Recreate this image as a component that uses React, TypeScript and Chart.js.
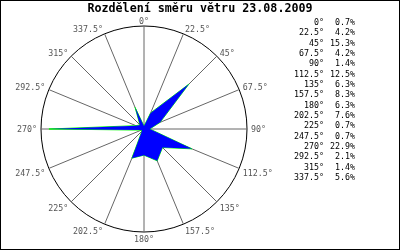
import React, { useEffect, useRef } from "react";
import { Chart, registerables } from "chart.js";

Chart.register(...registerables);

const TITLE = "Rozdělení směru větru 23.08.2009";
const DIRECTIONS = ["0°", "22.5°", "45°", "67.5°", "90°", "112.5°", "135°", "157.5°", "180°", "202.5°", "225°", "247.5°", "270°", "292.5°", "315°", "337.5°"];
const SHARES = [0.7, 4.2, 15.3, 4.2, 1.4, 12.5, 6.3, 8.3, 6.3, 7.6, 0.7, 0.7, 22.9, 2.1, 1.4, 5.6];
const SCALE_MAX = 24.8;

const MONO = '"DejaVu Sans Mono", "Liberation Mono", monospace';

const overlay = {
  id: "overlay",
  afterDraw(chart: any) {
    const ctx = chart.ctx as CanvasRenderingContext2D;
    ctx.save();
    ctx.strokeStyle = "#000";
    ctx.lineWidth = 1;
    ctx.strokeRect(0.5, 0.5, 399, 249);

    // title
    ctx.fillStyle = "#000";
    ctx.font = `bold 11.7px ${MONO}`;
    ctx.textAlign = "center";
    ctx.textBaseline = "middle";
    ctx.fillText(TITLE, 200, 9);

    // direction labels around the circle
    const s = chart.scales.r;
    ctx.font = `8.3px ${MONO}`;
    ctx.fillStyle = "#555";
    DIRECTIONS.forEach((d, i) => {
      const p = s.getPointPosition(i, s.drawingArea + 4);
      const deg = Math.round((s.getIndexAngle(i) * 180) / Math.PI) % 360;
      let align: CanvasTextAlign = "center";
      if (deg > 0 && deg < 180) align = "left";
      else if (deg > 180) align = "right";
      let dy = 0;
      if (deg === 90 || deg === 270) dy = 1;
      else if (deg > 90 && deg < 270) dy = 4;
      ctx.textAlign = align;
      ctx.fillText(d, p.x, p.y + dy);
    });

    // legend table
    ctx.fillStyle = "#000";
    ctx.textAlign = "right";
    DIRECTIONS.forEach((d, i) => {
      const y = 23 + i * 10.33;
      ctx.fillText(d, 324, y);
      ctx.fillText(SHARES[i].toFixed(1) + "%", 355, y);
    });
    ctx.restore();
  },
};

export default function App() {
  const ref = useRef<HTMLCanvasElement>(null);
  useEffect(() => {
    document.body.style.margin = "0";
    const chart = new Chart(ref.current!, {
      type: "radar",
      data: {
        labels: DIRECTIONS,
        datasets: [
          {
            data: SHARES,
            backgroundColor: "#0000ff",
            borderWidth: 0,
            borderColor: "rgba(0,0,0,0)",
            fill: true,
            pointRadius: 0,
          },
          {
            data: SHARES,
            backgroundColor: "rgba(0,0,0,0)",
            borderColor: "#00ff00",
            borderWidth: 1,
            fill: false,
            pointRadius: 0,
          },
        ],
      },
      options: {
        animation: false,
        responsive: false,
        layout: { padding: { left: 40, right: 152, top: 26, bottom: 17 } },
        elements: { line: { tension: 0 } },
        plugins: { legend: { display: false }, tooltip: { enabled: false }, title: { display: false } },
        scales: {
          r: {
            min: 0,
            max: SCALE_MAX,
            ticks: { display: false, stepSize: SCALE_MAX },
            grid: { color: "#000", lineWidth: 1, circular: true },
            angleLines: { color: "#666", lineWidth: 1 },
            pointLabels: { display: false },
          },
        },
      },
      plugins: [overlay],
    });
    return () => chart.destroy();
  }, []);
  return <canvas ref={ref} width={400} height={250} style={{ display: "block" }} />;
}
